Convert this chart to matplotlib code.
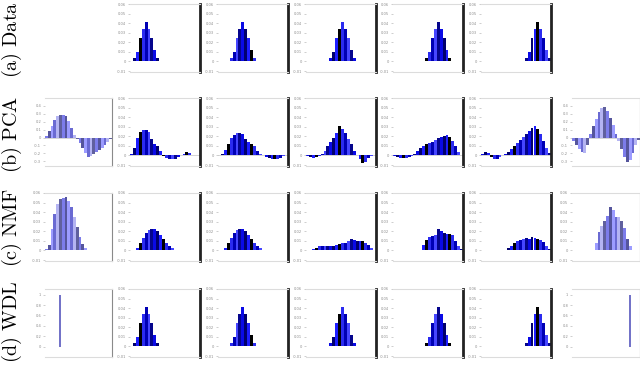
import matplotlib
matplotlib.use("Agg")
import matplotlib.pyplot as plt

plt.rcParams["mathtext.fontset"] = "cm"

# ---- data (bin heights, 24 bins per panel) ----
ROW_LABELS = [r"$\mathrm{(a)\ Data}$", r"$\mathrm{(b)\ PCA}$",
              r"$\mathrm{(c)\ NMF}$", r"$\mathrm{(d)\ WDL}$"]

DATA_2 = [0.001, 0.004, 0.010, 0.024, 0.034, 0.041, 0.034, 0.025, 0.012, 0.004, 0.001, 0,
          0, 0, 0, 0, 0, 0, 0, 0, 0, 0, 0, 0]
DATA_3 = [0, 0, 0, 0.001, 0.004, 0.010, 0.024, 0.034, 0.041, 0.034, 0.025, 0.012,
          0.004, 0.001, 0, 0, 0, 0, 0, 0, 0, 0, 0, 0]
DATA_4 = [0, 0, 0, 0, 0, 0, 0, 0.001, 0.004, 0.010, 0.024, 0.034,
          0.041, 0.034, 0.025, 0.012, 0.004, 0.001, 0, 0, 0, 0, 0, 0]
DATA_5 = [0, 0, 0, 0, 0, 0, 0, 0, 0, 0, 0.001, 0.004,
          0.010, 0.024, 0.034, 0.041, 0.034, 0.025, 0.012, 0.004, 0.001, 0, 0, 0]
DATA_6 = [0, 0, 0, 0, 0, 0, 0, 0, 0, 0, 0, 0,
          0, 0, 0.001, 0.004, 0.010, 0.024, 0.034, 0.041, 0.034, 0.025, 0.012, 0.004]

PCA_1 = [0.02, 0.08, 0.15, 0.22, 0.27, 0.29, 0.29, 0.27, 0.21, 0.12, 0.03, -0.02,
         -0.07, -0.13, -0.20, -0.25, -0.23, -0.21, -0.18, -0.16, -0.13, -0.10, -0.06, -0.02]
PCA_2 = [0.002, 0.008, 0.018, 0.025, 0.027, 0.027, 0.024, 0.017, 0.012, 0.010, 0.005, -0.001,
         -0.003, -0.004, -0.004, -0.004, -0.002, 0.000, 0.002, 0.004, 0.003, 0.001, 0, 0]
PCA_3 = [0, 0.002, 0.006, 0.012, 0.018, 0.021, 0.023, 0.023, 0.022, 0.017, 0.014, 0.012,
         0.010, 0.005, 0.002, 0, -0.002, -0.003, -0.004, -0.004, -0.004, -0.003, -0.001, 0]
PCA_4 = [-0.001, -0.002, -0.003, -0.002, -0.001, 0.002, 0.005, 0.010, 0.014, 0.018, 0.023, 0.031,
         0.028, 0.023, 0.017, 0.012, 0.005, 0.001, -0.004, -0.008, -0.007, -0.003, -0.001, 0]
PCA_5 = [-0.001, -0.002, -0.003, -0.003, -0.003, -0.002, -0.001, 0.002, 0.005, 0.008, 0.010, 0.012,
         0.013, 0.014, 0.016, 0.018, 0.019, 0.020, 0.021, 0.019, 0.015, 0.010, 0.004, 0.001]
PCA_6 = [0.002, 0.004, 0.003, -0.002, -0.004, -0.004, -0.002, 0.000, 0.002, 0.004, 0.007, 0.010,
         0.013, 0.016, 0.019, 0.022, 0.026, 0.029, 0.031, 0.028, 0.022, 0.015, 0.008, 0.003]
PCA_7 = [-0.04, -0.10, -0.15, -0.18, -0.19, -0.10, 0.05, 0.14, 0.24, 0.32, 0.37, 0.38,
         0.33, 0.25, 0.16, 0.05, -0.04, -0.14, -0.24, -0.31, -0.29, -0.20, -0.10, -0.03]

NMF_1 = [0.002, 0.006, 0.022, 0.038, 0.048, 0.054, 0.055, 0.056, 0.052, 0.045, 0.035, 0.024,
         0.014, 0.007, 0.003, 0.001, 0, 0, 0, 0, 0, 0, 0, 0]
NMF_2 = [0, 0.001, 0.003, 0.008, 0.013, 0.018, 0.021, 0.022, 0.022, 0.020, 0.016, 0.012,
         0.008, 0.005, 0.003, 0.001, 0, 0, 0, 0, 0, 0, 0, 0]
NMF_3 = [0, 0.001, 0.003, 0.008, 0.013, 0.018, 0.021, 0.022, 0.022, 0.020, 0.016, 0.012,
         0.008, 0.005, 0.003, 0.001, 0, 0, 0, 0, 0, 0, 0, 0]
NMF_4 = [0, 0.001, 0.002, 0.003, 0.005, 0.005, 0.005, 0.005, 0.005, 0.005, 0.006, 0.007,
         0.008, 0.008, 0.010, 0.012, 0.011, 0.010, 0.010, 0.010, 0.008, 0.006, 0.003, 0.001]
NMF_5 = [0, 0, 0, 0, 0, 0, 0, 0, 0, 0.001, 0.006, 0.011,
         0.014, 0.015, 0.016, 0.022, 0.020, 0.018, 0.017, 0.017, 0.016, 0.010, 0.005, 0.002]
NMF_6 = [0, 0, 0, 0, 0, 0, 0, 0, 0.001, 0.003, 0.005, 0.008,
         0.010, 0.011, 0.012, 0.013, 0.012, 0.014, 0.013, 0.012, 0.011, 0.009, 0.005, 0.002]
NMF_7 = [0, 0, 0, 0, 0, 0, 0, 0.001, 0.008, 0.019, 0.026, 0.031,
         0.036, 0.045, 0.042, 0.035, 0.035, 0.031, 0.023, 0.012, 0.005, 0.001, 0, 0]

WDL_1 = [0, 0, 0, 0, 0, 1.0, 0, 0, 0, 0, 0, 0,
         0, 0, 0, 0, 0, 0, 0, 0, 0, 0, 0, 0]
WDL_7 = [0, 0, 0, 0, 0, 0, 0, 0, 0, 0, 0, 0,
         0, 0, 0, 0, 0, 0, 0, 0, 1.0, 0, 0, 0]

GRID = [
    [None, DATA_2, DATA_3, DATA_4, DATA_5, DATA_6, None],
    [PCA_1, PCA_2, PCA_3, PCA_4, PCA_5, PCA_6, PCA_7],
    [NMF_1, NMF_2, NMF_3, NMF_4, NMF_5, NMF_6, NMF_7],
    [WDL_1, DATA_2, DATA_3, DATA_4, DATA_5, DATA_6, WDL_7],
]

SMALL_TICKS = [-0.01, 0.0, 0.01, 0.02, 0.03, 0.04, 0.05, 0.06]
PCA_EDGE_TICKS = [-0.3, -0.2, -0.1, 0.0, 0.1, 0.2, 0.3, 0.4]
NMF_EDGE_TICKS = [-0.01, 0.0, 0.01, 0.02, 0.03, 0.04, 0.05, 0.06]
WDL_EDGE_TICKS = [0.0, 0.2, 0.4, 0.6, 0.8, 1.0]

# ---- styling ----
W, H = 640, 366
COL_X = [45, 130, 218, 306, 393, 481, 572]
COL_W = [67, 70, 70, 70, 70, 70, 68]
ROW_Y = [4, 98, 193, 289]
ROW_H = 68

BLUES = ["#0a0ae6", "#00006e", "#1d1dff", "#000000", "#2b2bf0", "#0000b4", "#4646ff", "#05058c"]
LAVS = ["#7c7cea", "#55559c", "#9c9cff", "#6a6ad2", "#b4b4f2", "#60609e"]


def style_axes(ax, ticks, ylim, edge):
    ax.set_xlim(-0.5, 23.5)
    ax.set_ylim(*ylim)
    ax.set_xticks([])
    ax.set_yticks(ticks)
    ax.set_yticklabels([f"{t:g}" for t in ticks])
    ax.tick_params(axis="y", labelsize=2.6, labelcolor="#8c8c8c", length=1.2,
                   width=0.4, color="#aaaaaa", pad=1.5)
    ax.spines["left"].set_visible(False)
    for s in ("top", "bottom"):
        ax.spines[s].set_color("#dcdcdc")
        ax.spines[s].set_linewidth(0.8)
    if edge:
        ax.spines["right"].set_color("#8a8a8a")
        ax.spines["right"].set_linewidth(0.8)
    else:
        ax.spines["right"].set_color("#222222")
        ax.spines["right"].set_linewidth(2.0)


fig = plt.figure(figsize=(W / 100, H / 100), dpi=100)

for r, row in enumerate(GRID):
    for c, vals in enumerate(row):
        if vals is None:
            continue
        edge = c in (0, 6)
        ax = fig.add_axes([COL_X[c] / W, 1 - (ROW_Y[r] + ROW_H) / H,
                           COL_W[c] / W, ROW_H / H])
        if edge and r == 1:
            ticks, ylim = PCA_EDGE_TICKS, (-0.36, 0.5)
        elif edge and r == 2:
            ticks, ylim = NMF_EDGE_TICKS, (-0.011, 0.06)
        elif edge and r == 3:
            ticks, ylim = WDL_EDGE_TICKS, (-0.2, 1.11)
        else:
            ticks, ylim = SMALL_TICKS, (-0.011, 0.06)
        pal = LAVS if edge else BLUES
        xs = list(range(len(vals)))
        if edge and r == 3:
            ax.bar(xs, vals, width=0.7, color="#7373c8", linewidth=0)
        else:
            colors = [pal[i % len(pal)] for i in xs]
            ax.bar(xs, vals, width=1.0, color=colors, linewidth=0)
        if r == 1:
            ax.axhline(0, color="#cfcfcf", lw=0.6, zorder=0)
        style_axes(ax, ticks, ylim, edge)

ROW_CY = [40, 134, 228, 322]
for r, lab in enumerate(ROW_LABELS):
    fig.text(12 / W, 1 - ROW_CY[r] / H, lab, rotation=90, ha="center", va="center",
             fontsize=14.5)

fig.savefig("out.png", dpi=100)
